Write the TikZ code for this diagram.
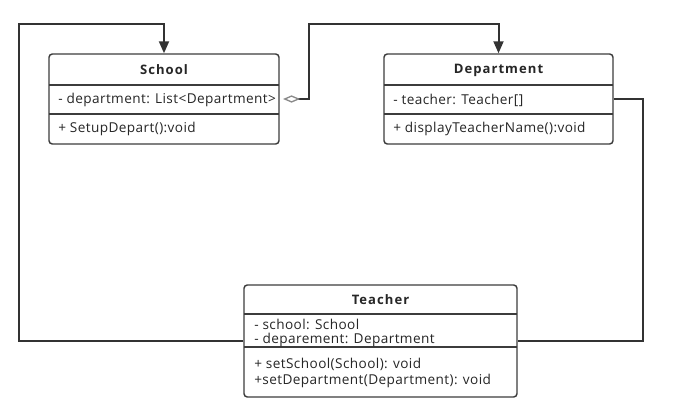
\documentclass[tikz,border=0pt]{standalone}
\usepackage{fontspec}
\setmainfont{Open Sans}
\newfontfamily\umlfont[LetterSpace=3]{Open Sans}
\newfontfamily\umltitle[LetterSpace=8]{Open Sans}
\usetikzlibrary{arrows.meta}
\definecolor{boxc}{HTML}{3C3C3C}
\definecolor{linec}{HTML}{333333}
\definecolor{txtc}{HTML}{262626}
\definecolor{diac}{HTML}{8A8A8A}
\begin{document}
\begin{tikzpicture}[x=0.75pt,y=-0.75pt,
  box/.style={draw=boxc, line width=1.1pt, rounded corners=2.5pt, fill=white, inner sep=0},
  div/.style={draw=boxc, line width=1.1pt},
  conn/.style={draw=linec, line width=1.5pt},
  tip/.style={-{Triangle[length=9pt,width=7.5pt]}},
  ttl/.style={font=\umltitle\bfseries\fontsize{9.8}{11}\selectfont, text=txtc, inner sep=0},
  lbl/.style={font=\umlfont\fontsize{10.2}{11}\selectfont, text=txtc, anchor=west, inner sep=0},
  ]
\useasboundingbox (0,0) rectangle (685,409);
% boxes
\node[box, minimum width=172.5pt, minimum height=67.5pt] (school) at (164,99) {};
\node[box, minimum width=171.75pt, minimum height=67.5pt] (department) at (498.5,99) {};
\node[box, minimum width=204.75pt, minimum height=84pt] (teacher) at (380.5,341) {};
% dividers
\draw[div] (49,85) -- (279,85);
\draw[div] (49,114) -- (279,114);
\draw[div] (384,85) -- (613,85);
\draw[div] (384,114) -- (613,114);
\draw[div] (244,314) -- (517,314);
\draw[div] (244,347) -- (517,347);
% texts
\node[ttl] (schoolT) at (164,70) {School};
\node[lbl] (schoolA) at (58,100) {- department: List<Department>};
\node[lbl] (schoolM) at (58,129) {+ SetupDepart():void};
\node[ttl] (departmentT) at (498.5,70) {Department};
\node[lbl] (departmentA) at (393,100) {- teacher: Teacher[]};
\node[lbl] (departmentM) at (393,129) {+ displayTeacherName():void};
\node[ttl] (teacherT) at (380.5,300) {Teacher};
\node[lbl] (teacherA1) at (254,324) {- school: School};
\node[lbl] (teacherA2) at (254,340) {- deparement: Department};
\node[lbl] (teacherM1) at (254,364) {+ setSchool(School): void};
\node[lbl] (teacherM2) at (254,381) {+setDepartment(Department): void};
% connectors
\draw[conn, tip] (teacher.west) -| (19,24) -| (school.north);
\draw[conn] (department.east) -| (643,341) -- (teacher.east);
\draw[conn, {Diamond[open,length=12.75pt,width=5.5pt,color=diac,line width=1pt]}-{Triangle[length=9pt,width=7.5pt]}, shorten <=2.5pt]
  (school.east) -| (309,24) -| (department.north);
\end{tikzpicture}
\end{document}
